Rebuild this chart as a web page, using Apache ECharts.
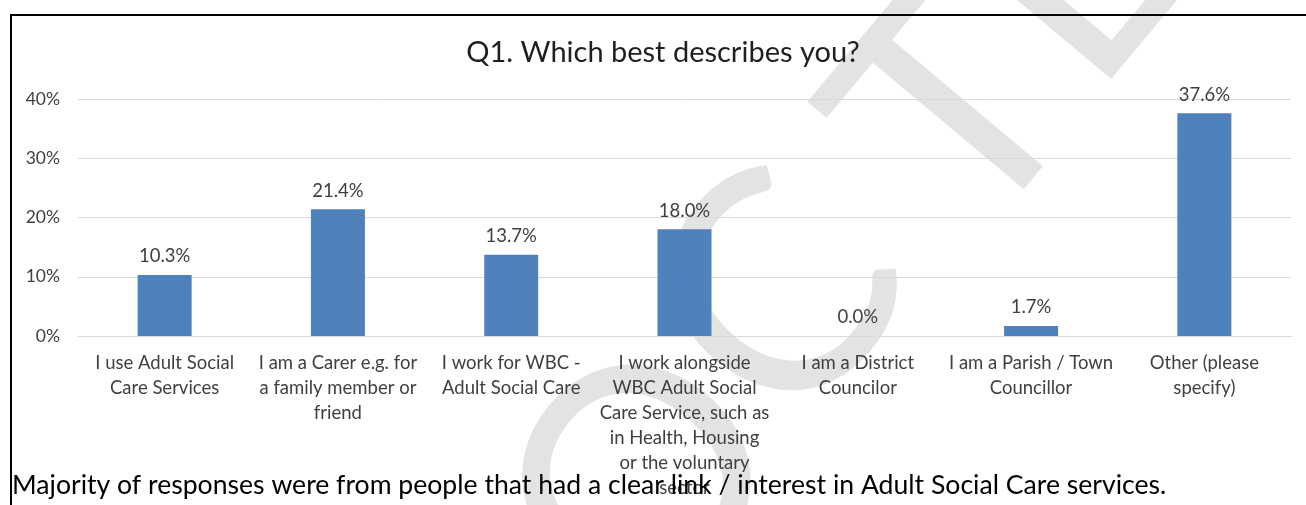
<!DOCTYPE html>
<html>
<head>
<meta charset="utf-8">
<script src="https://cdn.jsdelivr.net/npm/echarts@6/dist/echarts.min.js"></script>
<style>
  html, body { margin: 0; padding: 0; background: #fff; }
  #chart { width: 1306px; height: 505px; }
</style>
</head>
<body>
<div id="chart"></div>
<script>
// categories (line breaks as in the original chart)
const categories = [
  'I use Adult Social\nCare Services',
  'I am a Carer e.g. for\na family member or\nfriend',
  'I work for WBC -\nAdult Social Care',
  'I work alongside\nWBC Adult Social\nCare Service, such as\nin Health, Housing\nor the voluntary\nsector',
  'I am a District\nCouncilor',
  'I am a Parish / Town\nCouncillor',
  'Other (please\nspecify)'
];
// percentage of responses
const shares = [10.3, 21.4, 13.7, 18.0, 0.0, 1.7, 37.6];
const yMax = 40;
const yStep = 10;

const titleText = 'Q1. Which best describes you?';
const noteText = 'Majority of responses were from people that had a clear link / interest in Adult Social Care services.';
const watermarkLetters = ['O', 'C', 'T', 'E'];

const FONT = 'Lato, "Open Sans", sans-serif';
const chart = echarts.init(document.getElementById('chart'));

const option = {
  backgroundColor: '#fff',
  animation: false,
  title: {
    text: titleText,
    left: 658,
    top: 33,
    textAlign: 'center',
    textStyle: { fontFamily: FONT, fontSize: 29, fontWeight: 'normal', color: '#1f1f1f' }
  },
  grid: { left: 78, right: 15, top: 99, bottom: 169 },
  xAxis: {
    type: 'category',
    data: categories,
    axisLine: { lineStyle: { color: '#d9d9d9' } },
    axisTick: { show: false },
    axisLabel: {
      interval: 0,
      margin: 15,
      fontFamily: FONT,
      fontSize: 18.5,
      lineHeight: 25,
      color: '#404040'
    }
  },
  yAxis: {
    type: 'value',
    min: 0,
    max: yMax,
    interval: yStep,
    axisLine: { show: false },
    axisTick: { show: false },
    splitLine: { lineStyle: { color: '#d9d9d9' } },
    axisLabel: {
      margin: 18,
      fontFamily: FONT,
      fontSize: 17.5,
      color: '#404040',
      formatter: '{value}%'
    }
  },
  series: [{
    type: 'bar',
    data: shares,
    barWidth: 54,
    itemStyle: { color: '#4f81bd' },
    label: {
      show: true,
      position: 'top',
      distance: 9,
      fontFamily: FONT,
      fontSize: 18.5,
      color: '#404040',
      formatter: p => p.value.toFixed(1) + '%'
    }
  }],
  graphic: [
    {
      type: 'rect',
      z: 1,
      shape: { x: 11, y: 15, width: 1400, height: 600 },
      style: { fill: 'none', stroke: '#000', lineWidth: 2 }
    },
    {
      type: 'text',
      z: 50,
      left: 12,
      top: 472,
      style: { text: noteText, font: '26.6px ' + FONT, fill: '#000' }
    },
    {
      type: 'group',
      x: 812,
      y: 286,
      rotation: 50 * Math.PI / 180,
      z: 100,
      silent: true,
      children: watermarkLetters.map((ch, i) => ({
        type: 'text',
        x: [-260, -30, 225, 412][i],
        y: [0, -16, 0, -4][i],
        style: {
          text: ch,
          font: '310px ' + FONT,
          fill: 'rgba(0,0,0,0.11)',
          align: 'center',
          verticalAlign: 'middle'
        }
      }))
    }
  ]
};

chart.setOption(option);
</script>
</body>
</html>
